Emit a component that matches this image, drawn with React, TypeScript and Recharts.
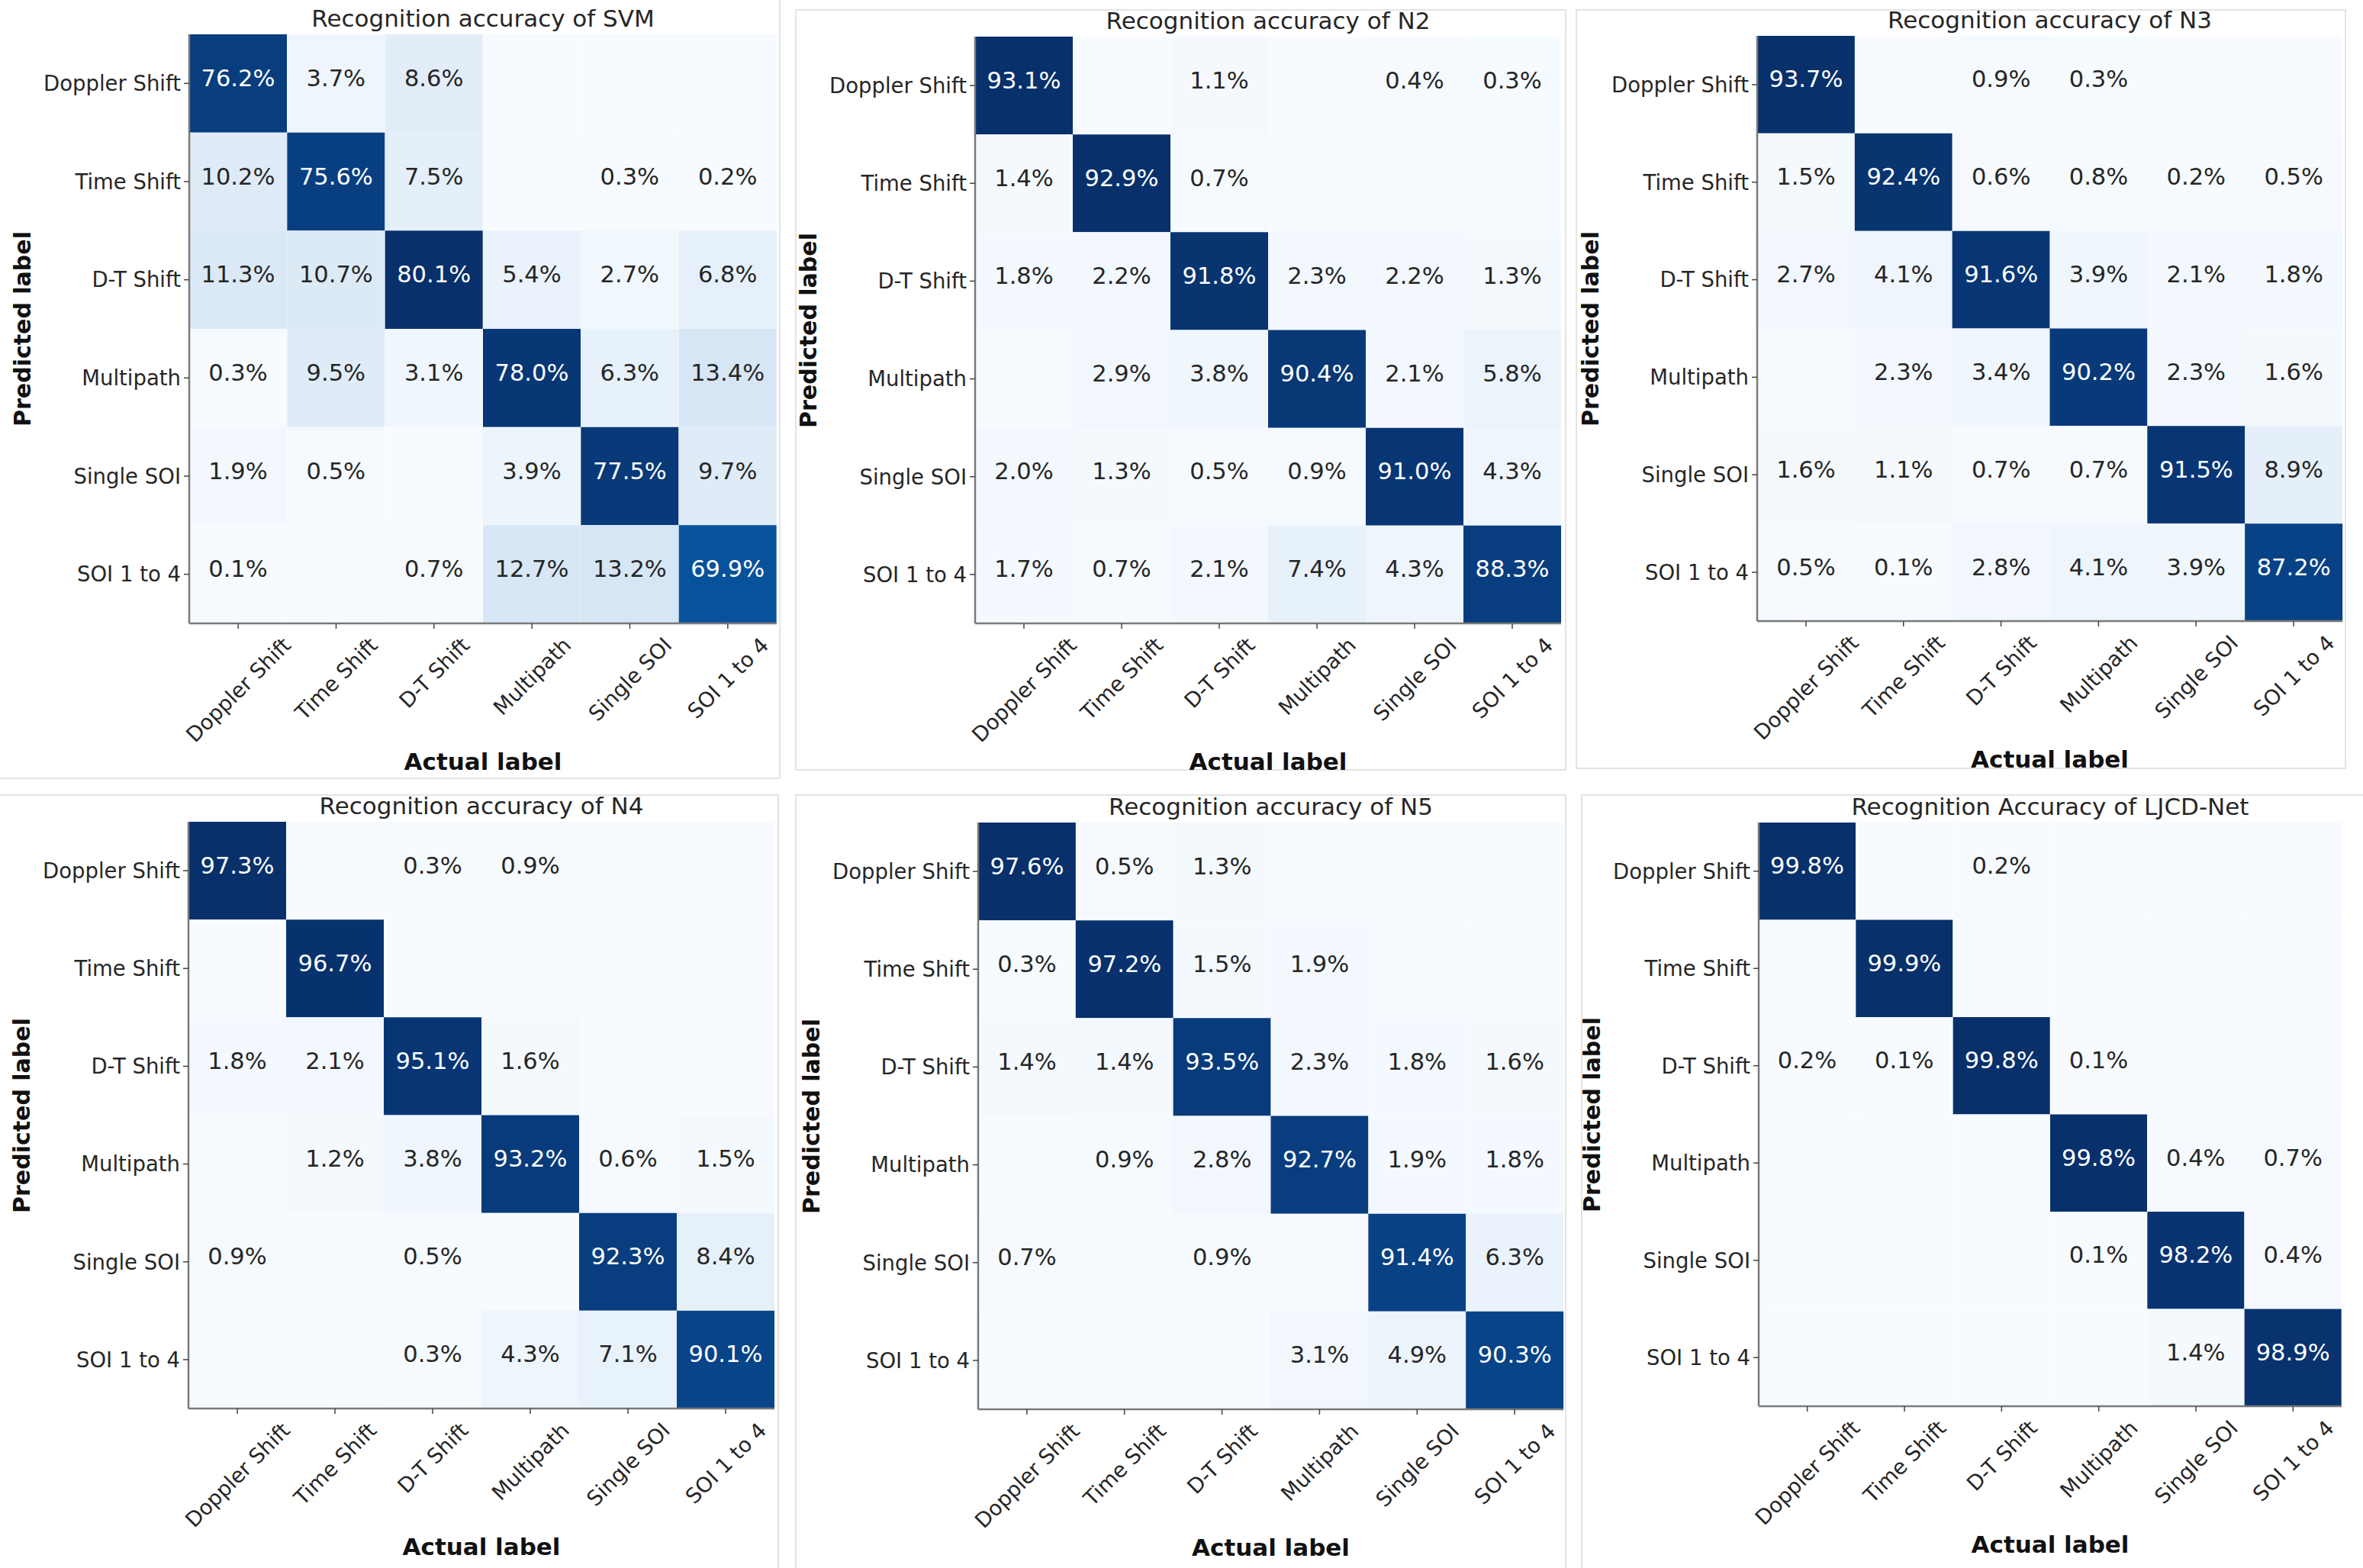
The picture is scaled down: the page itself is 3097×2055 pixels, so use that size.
import React from "react";
import { BarChart, Bar, XAxis, YAxis, Cell, LabelList } from "recharts";

// class names, shared by both axes
const classLabels = ["Doppler Shift", "Time Shift", "D-T Shift", "Multipath", "Single SOI", "SOI 1 to 4"];

const titles = [
  "Recognition accuracy of SVM",
  "Recognition accuracy of N2",
  "Recognition accuracy of N3",
  "Recognition accuracy of N4",
  "Recognition accuracy of N5",
  "Recognition Accuracy of LJCD-Net",
];

// rows = predicted label, columns = actual label, in percent (0 = empty cell)
const svmValues = [
  [76.2, 3.7, 8.6, 0, 0, 0],
  [10.2, 75.6, 7.5, 0, 0.3, 0.2],
  [11.3, 10.7, 80.1, 5.4, 2.7, 6.8],
  [0.3, 9.5, 3.1, 78.0, 6.3, 13.4],
  [1.9, 0.5, 0, 3.9, 77.5, 9.7],
  [0.1, 0, 0.7, 12.7, 13.2, 69.9],
];

const n2Values = [
  [93.1, 0, 1.1, 0, 0.4, 0.3],
  [1.4, 92.9, 0.7, 0, 0, 0],
  [1.8, 2.2, 91.8, 2.3, 2.2, 1.3],
  [0, 2.9, 3.8, 90.4, 2.1, 5.8],
  [2.0, 1.3, 0.5, 0.9, 91.0, 4.3],
  [1.7, 0.7, 2.1, 7.4, 4.3, 88.3],
];

const n3Values = [
  [93.7, 0, 0.9, 0.3, 0, 0],
  [1.5, 92.4, 0.6, 0.8, 0.2, 0.5],
  [2.7, 4.1, 91.6, 3.9, 2.1, 1.8],
  [0, 2.3, 3.4, 90.2, 2.3, 1.6],
  [1.6, 1.1, 0.7, 0.7, 91.5, 8.9],
  [0.5, 0.1, 2.8, 4.1, 3.9, 87.2],
];

const n4Values = [
  [97.3, 0, 0.3, 0.9, 0, 0],
  [0, 96.7, 0, 0, 0, 0],
  [1.8, 2.1, 95.1, 1.6, 0, 0],
  [0, 1.2, 3.8, 93.2, 0.6, 1.5],
  [0.9, 0, 0.5, 0, 92.3, 8.4],
  [0, 0, 0.3, 4.3, 7.1, 90.1],
];

const n5Values = [
  [97.6, 0.5, 1.3, 0, 0, 0],
  [0.3, 97.2, 1.5, 1.9, 0, 0],
  [1.4, 1.4, 93.5, 2.3, 1.8, 1.6],
  [0, 0.9, 2.8, 92.7, 1.9, 1.8],
  [0.7, 0, 0.9, 0, 91.4, 6.3],
  [0, 0, 0, 3.1, 4.9, 90.3],
];

const ljcdValues = [
  [99.8, 0, 0.2, 0, 0, 0],
  [0, 99.9, 0, 0, 0, 0],
  [0.2, 0.1, 99.8, 0.1, 0, 0],
  [0, 0, 0, 99.8, 0.4, 0.7],
  [0, 0, 0, 0.1, 98.2, 0.4],
  [0, 0, 0, 0, 1.4, 98.9],
];

const allValues = [svmValues, n2Values, n3Values, n4Values, n5Values, ljcdValues];

// layout: plot box of each matrix and the light frame around each panel
const layout = [
  { x: 248, y: 45, w: 770, h: 772, box: [-6, -6, 1023, 1021] },
  { x: 1278, y: 48, w: 768, h: 769, box: [1042, 12, 2053, 1010] },
  { x: 2303, y: 47, w: 767, h: 767, box: [2065, 12, 3075, 1008] },
  { x: 247, y: 1077, w: 768, h: 769, box: [-6, 1041, 1021, 2070] },
  { x: 1282, y: 1078, w: 767, h: 769, box: [1042, 1041, 2053, 2070] },
  { x: 2305, y: 1078, w: 764, h: 765, box: [2072, 1041, 3110, 2070] },
];

const FONT = "'DejaVu Sans', sans-serif";
const TEXT = "#262626";
const FRAME = "#7a7a7a";
const YW = 248;
const XH = 200;
const MT = 10;
const MR = 10;

const BLUES = ["#f7fbff", "#deebf7", "#c6dbef", "#9ecae1", "#6baed6", "#4292c6", "#2171b5", "#08519c", "#08306b"];

function blues(t: number) {
  const p = Math.max(0, Math.min(1, t)) * 8;
  const i = Math.min(7, Math.floor(p));
  const f = p - i;
  const a = BLUES[i], b = BLUES[i + 1];
  const ch = (s: string, k: number) => parseInt(s.slice(1 + k * 2, 3 + k * 2), 16);
  const out = [0, 1, 2].map((k) => Math.round(ch(a, k) + (ch(b, k) - ch(a, k)) * f));
  return `rgb(${out.join(",")})`;
}

let ctx: CanvasRenderingContext2D | null = null;
function textWidth(s: string, size: number) {
  if (!ctx) ctx = document.createElement("canvas").getContext("2d");
  if (!ctx) return s.length * size * 0.55;
  ctx.font = `${size}px 'DejaVu Sans'`;
  return ctx.measureText(s).width;
}

function XTick(props: any) {
  const { x, y, payload } = props;
  const fs = 27.5;
  const label = payload.value as string;
  const half = ((textWidth(label, fs) + fs * 0.95) * Math.SQRT1_2) / 2;
  return (
    <text
      transform={`translate(${x},${y + 5 + half}) rotate(-45)`}
      textAnchor="middle"
      dominantBaseline="central"
      fontSize={fs}
      fontFamily={FONT}
      fill={TEXT}
    >
      {label}
    </text>
  );
}

function Matrix({ title, values, x, y, w, h, box }: any) {
  const flat = values.flat();
  const max = Math.max(...flat);
  const min = Math.min(...flat);
  const thresh = (max + min) / 2;

  const data = classLabels.map((name, c) => {
    const d: any = { name };
    classLabels.forEach((_, r) => {
      d[`r${r}`] = 1;
      d[`v${r}`] = values[r][c];
    });
    return d;
  });

  const cellLabel = (p: any) => {
    const { x: lx, y: ly, width, height, value } = p;
    if (!value) return null;
    return (
      <text
        x={lx + width / 2}
        y={ly + height / 2 - 7}
        textAnchor="middle"
        dominantBaseline="central"
        fontSize={30.5}
        fontFamily={FONT}
        fill={value > thresh ? "#ffffff" : TEXT}
      >
        {value.toFixed(1)}%
      </text>
    );
  };

  const line = { stroke: FRAME, strokeWidth: 2.5 };

  return (
    <>
      <div
        style={{
          position: "absolute",
          left: box[0],
          top: box[1],
          width: box[2] - box[0],
          height: box[3] - box[1],
          border: "2px solid #e4e4e4",
          boxSizing: "border-box",
        }}
      />
      <div style={{ position: "absolute", left: x - YW, top: y - MT }}>
        <BarChart
          width={w + YW + MR}
          height={h + MT + XH}
          data={data}
          margin={{ top: MT, right: MR, left: 0, bottom: 0 }}
          barCategoryGap={0}
          barGap={0}
        >
          <XAxis
            dataKey="name"
            type="category"
            height={XH}
            interval={0}
            tick={<XTick />}
            tickSize={7}
            tickLine={{ stroke: "#444", strokeWidth: 1.5 }}
            axisLine={line}
          />
          <XAxis xAxisId="top" orientation="top" dataKey="name" height={0} tick={false} tickLine={false} axisLine={line} />
          <YAxis
            type="number"
            domain={[0, 6]}
            reversed
            ticks={[0.5, 1.5, 2.5, 3.5, 4.5, 5.5]}
            tickFormatter={(v: number) => classLabels[Math.floor(v)]}
            width={YW}
            tickSize={7}
            tickMargin={4}
            tickLine={{ stroke: "#444", strokeWidth: 1.5 }}
            axisLine={line}
            tick={{ fontSize: 27.5, fill: TEXT, fontFamily: FONT }}
          />
          <YAxis yAxisId="right" orientation="right" type="number" domain={[0, 6]} width={0} tick={false} tickLine={false} axisLine={line} />
          {classLabels.map((_, r) => (
            <Bar key={r} dataKey={`r${r}`} stackId="m" isAnimationActive={false}>
              {data.map((_d, c) => (
                <Cell key={c} fill={blues(values[r][c] / max)} />
              ))}
              <LabelList dataKey={`v${r}`} content={cellLabel} />
            </Bar>
          ))}
        </BarChart>
      </div>
      <div
        style={{
          position: "absolute",
          left: x + w / 2,
          top: y - 21,
          transform: "translate(-50%, -50%)",
          fontFamily: FONT,
          fontSize: 31,
          color: TEXT,
          whiteSpace: "nowrap",
        }}
      >
        {title}
      </div>
      <div
        style={{
          position: "absolute",
          left: x - 219,
          top: y + h / 2,
          transform: "translate(-50%, -50%) rotate(-90deg)",
          fontFamily: FONT,
          fontSize: 30,
          fontWeight: "bold",
          color: "#111",
          whiteSpace: "nowrap",
        }}
      >
        Predicted label
      </div>
      <div
        style={{
          position: "absolute",
          left: x + w / 2,
          top: y + h + 181,
          transform: "translate(-50%, -50%)",
          fontFamily: FONT,
          fontSize: 31,
          fontWeight: "bold",
          color: "#111",
          whiteSpace: "nowrap",
        }}
      >
        Actual label
      </div>
    </>
  );
}

export default function App() {
  return (
    <div
      style={{
        position: "absolute",
        left: 0,
        top: 0,
        width: 3097,
        height: 2055,
        background: "#fff",
        overflow: "hidden",
      }}
    >
      {titles.map((t, i) => (
        <Matrix key={i} title={t} values={allValues[i]} {...layout[i]} />
      ))}
    </div>
  );
}
